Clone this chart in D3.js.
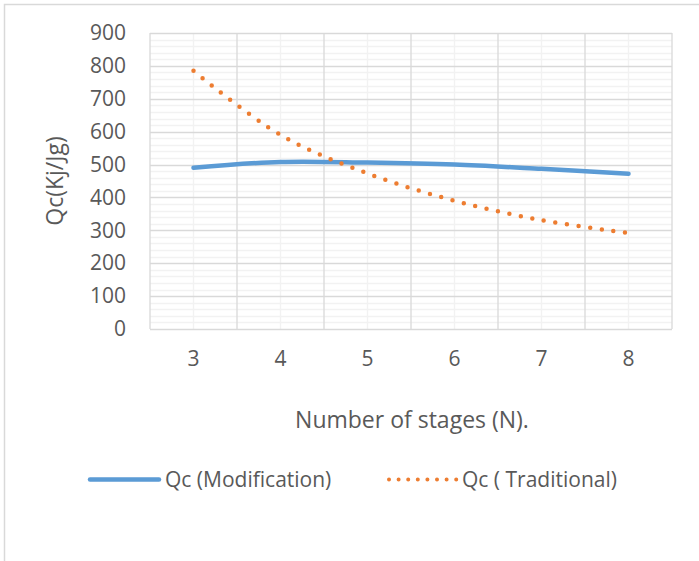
<!DOCTYPE html>
<html>
<head>
<meta charset="utf-8">
<script src="https://cdn.jsdelivr.net/npm/d3@7"></script>
<style>
  body { margin: 0; background: #fff; }
  text { font-family: 'Open Sans', sans-serif; fill: #595959; }
</style>
</head>
<body>
<div id="chart"></div>
<script>
// data
const stages = ['3', '4', '5', '6', '7', '8'];
const qcModification = [490, 508, 506, 500, 487, 472];
const qcTraditional = [785, 590, 473, 390, 331, 292];
const yTicks = [0, 100, 200, 300, 400, 500, 600, 700, 800, 900];
const seriesNames = ['Qc (Modification)', 'Qc ( Traditional)'];

const width = 699;
const height = 561;
const margin = {top: 33, right: 27, bottom: 232, left: 150};
const plotW = width - margin.left - margin.right;
const plotH = height - margin.top - margin.bottom;

const blue = '#5b9bd5';
const orange = '#ed7d31';
const tickFont = '21px';
const titleFont = '23px';

const svg = d3.select('#chart').append('svg')
  .attr('width', width)
  .attr('height', height);

// outer chart border
svg.append('rect')
  .attr('x', 4.5).attr('y', 4.5)
  .attr('width', width + 10).attr('height', height + 10)
  .attr('fill', 'none')
  .attr('stroke', '#d9d9d9')
  .attr('stroke-width', 1.5);

const g = svg.append('g')
  .attr('transform', `translate(${margin.left}, ${margin.top})`);

/* Scales */
const xScale = d3.scaleBand()
  .domain(stages)
  .range([0, plotW]);

const yScale = d3.scaleLinear()
  .domain([0, 900])
  .range([plotH, 0]);

const xMid = d => xScale(d) + xScale.bandwidth() / 2;

/* Grid */
const minorY = d3.range(0, 901, 20).filter(v => v % 100 !== 0);
g.append('g').selectAll('line')
  .data(minorY).enter()
  .append('line')
  .attr('x1', 0).attr('x2', plotW)
  .attr('y1', d => Math.round(yScale(d)) + 0.5)
  .attr('y2', d => Math.round(yScale(d)) + 0.5)
  .attr('stroke', '#f2f2f2')
  .attr('stroke-width', 1.3);

g.append('g').selectAll('line')
  .data(stages).enter()
  .append('line')
  .attr('x1', d => xMid(d)).attr('x2', d => xMid(d))
  .attr('y1', 0).attr('y2', plotH)
  .attr('stroke', '#f2f2f2')
  .attr('stroke-width', 1.3);

g.append('g').selectAll('line')
  .data(yTicks).enter()
  .append('line')
  .attr('x1', 0).attr('x2', plotW)
  .attr('y1', d => Math.round(yScale(d)) + 0.5)
  .attr('y2', d => Math.round(yScale(d)) + 0.5)
  .attr('stroke', '#d9d9d9')
  .attr('stroke-width', 1.3);

const bounds = stages.map(d => xScale(d)).concat([plotW]);
g.append('g').selectAll('line')
  .data(bounds).enter()
  .append('line')
  .attr('x1', d => d).attr('x2', d => d)
  .attr('y1', 0).attr('y2', plotH)
  .attr('stroke', '#d9d9d9')
  .attr('stroke-width', 1.3);

/* Axes */
const yAxis = d3.axisLeft(yScale).tickValues(yTicks).tickSize(0).tickPadding(24);
g.append('g')
  .attr('class', 'y axis')
  .call(yAxis)
  .call(s => s.select('.domain').remove())
  .selectAll('text')
  .style('font-size', tickFont)
  .attr('fill', '#595959');

const xAxis = d3.axisBottom(xScale).tickSize(0).tickPadding(22);
g.append('g')
  .attr('class', 'x axis')
  .attr('transform', `translate(0, ${plotH})`)
  .call(xAxis)
  .call(s => s.select('.domain').remove())
  .selectAll('text')
  .style('font-size', tickFont)
  .attr('fill', '#595959');

/* Lines */
const line = d3.line()
  .x((d, i) => xMid(stages[i]))
  .y(d => yScale(d))
  .curve(d3.curveCatmullRom.alpha(0.5));

g.append('path')
  .attr('d', line(qcModification))
  .attr('fill', 'none')
  .attr('stroke', blue)
  .attr('stroke-width', 4.5)
  .attr('stroke-linecap', 'round');

g.append('path')
  .attr('d', line(qcTraditional))
  .attr('fill', 'none')
  .attr('stroke', orange)
  .attr('stroke-width', 4.5)
  .attr('stroke-linecap', 'round')
  .attr('stroke-dasharray', '0 11.7');

/* Titles */
svg.append('text')
  .attr('transform', 'translate(63, 181) rotate(-90)')
  .attr('text-anchor', 'middle')
  .style('font-size', titleFont)
  .text('Qc(Kj/Jg)');

svg.append('text')
  .attr('x', 412).attr('y', 428)
  .attr('text-anchor', 'middle')
  .style('font-size', titleFont)
  .text('Number of stages (N).');

/* Legend */
const legend = svg.append('g');
legend.append('line')
  .attr('x1', 90).attr('x2', 159)
  .attr('y1', 479.5).attr('y2', 479.5)
  .attr('stroke', blue).attr('stroke-width', 4.5)
  .attr('stroke-linecap', 'round');
legend.append('text')
  .attr('x', 165).attr('y', 487)
  .style('font-size', tickFont)
  .text(seriesNames[0]);

legend.append('line')
  .attr('x1', 389).attr('x2', 457)
  .attr('y1', 479.5).attr('y2', 479.5)
  .attr('stroke', orange).attr('stroke-width', 4)
  .attr('stroke-linecap', 'round')
  .attr('stroke-dasharray', '0 9.6');
legend.append('text')
  .attr('x', 462).attr('y', 487)
  .style('font-size', tickFont)
  .text(seriesNames[1]);
</script>
</body>
</html>
